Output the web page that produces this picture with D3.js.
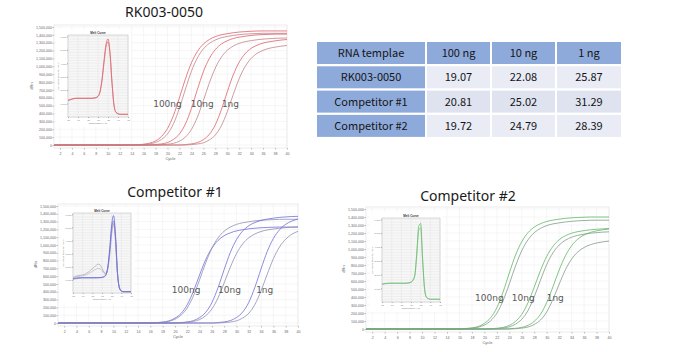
<!DOCTYPE html>
<html>
<head>
<meta charset="utf-8">
<script src="https://cdn.jsdelivr.net/npm/d3@7"></script>
<style>
  body { margin: 0; background: #fff; }
  svg { display: block; }
</style>
</head>
<body>
<div id="chart"></div>
<script>
/* qPCR amplification plots (dRn vs cycle) with melt-curve insets, plus Ct table */

/* ---- data ---- */
const cycles = [1,2,3,4,5,6,7,8,9,10,11,12,13,14,15,16,17,18,19,20,21,22,23,24,25,26,27,28,29,30,31,32,33,34,35,36,37,38,39,40];
const xTicks = [2,4,6,8,10,12,14,16,18,20,22,24,26,28,30,32,34,36,38,40];
const yTicks = [0,100,200,300,400,500,600,700,800,900,1000,1100,1200,1300,1400,1500]; // x1000 dRn

// RK003-0050 (dRn, thousands)
const rk100a = [0,0,0,0,0,0,0,0,0,0,0,0,0,0,3,10,23,52,109,210,377,602,841,1044,1189,1283,1341,1378,1401,1415,1427,1436,1441,1446,1449,1450,1450,1450,1450,1450];
const rk100b = [0,0,0,0,0,0,0,0,0,0,0,0,0,0,0,6,14,31,71,142,270,469,710,937,1108,1221,1292,1335,1363,1380,1393,1403,1410,1414,1417,1420,1420,1420,1420,1420];
const rk10a  = [0,0,0,0,0,0,0,0,0,0,0,0,0,0,0,0,0,6,14,31,71,141,268,465,705,931,1100,1213,1283,1325,1354,1371,1383,1393,1400,1404,1407,1410,1410,1410];
const rk10b  = [0,0,0,0,0,0,0,0,0,0,0,0,0,0,0,0,0,0,3,10,22,49,102,197,354,564,789,979,1115,1204,1258,1292,1314,1327,1338,1346,1352,1356,1359,1360];
const rk1a   = [0,0,0,0,0,0,0,0,0,0,0,0,0,0,0,0,0,0,0,0,0,0,5,14,30,68,135,257,446,675,891,1053,1161,1229,1269,1296,1312,1324,1334,1341];
const rk1b   = [0,0,0,0,0,0,0,0,0,0,0,0,0,0,0,0,0,0,0,0,0,0,0,5,13,28,64,128,243,422,640,845,998,1101,1165,1203,1229,1244,1256,1265];

// Competitor #1
const c1_100a = [0,0,0,0,0,0,0,0,0,0,0,0,0,0,0,0,5,12,27,62,123,234,406,615,812,959,1058,1119,1156,1181,1196,1207,1215,1221,1225,1228,1230,1230,1230,1230];
const c1_100b = [0,0,0,0,0,0,0,0,0,0,0,0,0,0,0,0,3,9,21,48,100,193,346,552,771,958,1091,1177,1230,1264,1285,1298,1309,1317,1322,1326,1329,1330,1330,1330];
const c1_10a  = [0,0,0,0,0,0,0,0,0,0,0,0,0,0,0,0,0,0,0,0,5,14,30,69,137,260,452,685,904,1069,1178,1247,1288,1315,1332,1344,1354,1360,1365,1367];
const c1_10b  = [0,0,0,0,0,0,0,0,0,0,0,0,0,0,0,0,0,0,0,0,2,9,20,44,93,179,321,513,716,889,1013,1093,1142,1173,1193,1205,1215,1223,1228,1231];
const c1_1a   = [0,0,0,0,0,0,0,0,0,0,0,0,0,0,0,0,0,0,0,0,0,0,0,0,0,0,6,14,31,70,139,264,459,695,917,1084,1195,1265,1307,1334];
const c1_1b   = [0,0,0,0,0,0,0,0,0,0,0,0,0,0,0,0,0,0,0,0,0,0,0,0,0,0,0,5,13,28,63,125,238,413,625,825,975,1075,1138,1175];

// Competitor #2
const c2_100a = [0,0,0,0,0,0,0,0,0,0,0,0,0,0,0,0,6,14,31,70,140,266,462,700,924,1092,1204,1274,1316,1344,1361,1373,1383,1390,1394,1397,1400,1400,1400,1400];
const c2_100b = [0,0,0,0,0,0,0,0,0,0,0,0,0,0,0,0,3,10,22,49,102,197,354,564,789,979,1115,1204,1258,1292,1314,1327,1338,1346,1352,1356,1359,1360,1360,1360];
const c2_10a  = [0,0,0,0,0,0,0,0,0,0,0,0,0,0,0,0,0,0,0,0,3,9,20,45,95,183,328,523,731,907,1033,1115,1166,1197,1217,1230,1240,1247,1252,1256];
const c2_10b  = [0,0,0,0,0,0,0,0,0,0,0,0,0,0,0,0,0,0,0,0,0,5,12,27,61,122,232,403,610,805,952,1049,1110,1147,1171,1186,1197,1205,1211,1215];
const c2_1a   = [0,0,0,0,0,0,0,0,0,0,0,0,0,0,0,0,0,0,0,0,0,0,0,3,9,20,46,95,184,330,527,737,914,1041,1124,1175,1207,1227,1240,1250];
const c2_1b   = [0,0,0,0,0,0,0,0,0,0,0,0,0,0,0,0,0,0,0,0,0,0,0,0,4,11,25,56,112,213,370,560,739,874,963,1019,1053,1075,1089,1099];

// melt curves (derivative, arbitrary units)
const meltTemps  = [65,66,67,68,69,70,71,72,73,74,75,76,77,78,79,80,81,82,83,84,85,86,87,88,89,90,91,92,93,94,95];
const meltXTicks = [65,70,75,80,85,90,95];
const meltYTicks = [1,2,3,4,5,6];
const rkMeltA = [1.25,1.30,1.35,1.38,1.40,1.40,1.40,1.40,1.40,1.40,1.40,1.40,1.40,1.42,1.45,1.55,1.9,2.8,4.2,5.4,5.8,4.8,2.6,0.9,0.35,0.25,0.2,0.2,0.2,0.2,0.2];
const rkMeltB = [1.20,1.27,1.32,1.36,1.38,1.38,1.38,1.38,1.38,1.38,1.38,1.38,1.38,1.40,1.43,1.52,1.85,2.7,4.0,5.2,5.6,4.7,2.5,0.85,0.33,0.24,0.2,0.2,0.2,0.2,0.2];
const c1MeltA = [1.10,1.12,1.15,1.17,1.18,1.18,1.18,1.18,1.18,1.18,1.18,1.18,1.18,1.18,1.18,1.2,1.25,1.4,2.0,3.4,5.2,5.9,4.4,1.6,0.4,0.15,0.1,0.1,0.1,0.1,0.1];
const c1MeltB = [1.05,1.08,1.10,1.12,1.13,1.14,1.14,1.14,1.14,1.14,1.14,1.14,1.14,1.15,1.16,1.18,1.22,1.35,1.9,3.2,4.9,5.5,4.2,1.5,0.4,0.15,0.1,0.1,0.1,0.1,0.1];
const c1MeltC = [1.2,1.25,1.3,1.32,1.35,1.38,1.42,1.5,1.6,1.72,1.85,1.98,2.1,2.2,2.15,1.9,1.6,1.5,1.9,3.0,4.6,5.3,4.0,1.5,0.4,0.15,0.1,0.1,0.1,0.1,0.1];
const c1MeltD = [1.15,1.2,1.25,1.28,1.3,1.32,1.35,1.4,1.48,1.56,1.65,1.74,1.82,1.88,1.85,1.7,1.5,1.45,1.85,2.9,4.5,5.2,3.9,1.45,0.4,0.15,0.1,0.1,0.1,0.1,0.1];
const c2MeltA = [1.30,1.33,1.35,1.36,1.37,1.37,1.37,1.37,1.37,1.37,1.37,1.37,1.37,1.38,1.40,1.45,1.6,2.0,3.6,5.5,5.7,3.2,1.0,0.35,0.25,0.2,0.2,0.2,0.2,0.2,0.2];
const c2MeltB = [1.28,1.31,1.33,1.34,1.35,1.35,1.35,1.35,1.35,1.35,1.35,1.35,1.35,1.36,1.38,1.43,1.55,1.9,3.4,5.2,5.4,3.0,0.95,0.33,0.24,0.2,0.2,0.2,0.2,0.2,0.2];

const panelTitles = ["RK003-0050", "Competitor #1", "Competitor #2"];
const doseLabels = ["100ng", "10ng", "1ng"];

// Ct table
const tableHeader = ["RNA templae", "100 ng", "10 ng", "1 ng"];
const tableRows = ["RK003-0050", "Competitor #1", "Competitor #2"];
const ctValues = [[19.07, 22.08, 25.87], [20.81, 25.02, 31.29], [19.72, 24.79, 28.39]];

/* ---- layout ---- */
const width = 697, height = 352;

const panels = [
  { title: panelTitles[0], tx: 164, ty: 17, left: 54, right: 287, y0: 145, yTop: 27,
    colors: ["#df6068", "#c0848a"],
    curves: [rk100a, rk100b, rk10a, rk10b, rk1a, rk1b],
    labelCycles: [17.6, 23.9, 29.1], labelValue: 480,
    inset: { x: 68, y: 35, w: 60, h: 82, melts: [rkMeltB, rkMeltA], colors: ["#d08088", "#e2646c"] } },
  { title: panelTitles[1], tx: 175, ty: 197, left: 58, right: 298, y0: 323, yTop: 206,
    colors: ["#6e6ed8", "#8e8eb2"],
    curves: [c1_100a, c1_100b, c1_10a, c1_10b, c1_1a, c1_1b],
    labelCycles: [19.5, 27.0, 33.2], labelValue: 387,
    inset: { x: 73, y: 213, w: 58, h: 80, melts: [c1MeltC, c1MeltD, c1MeltB, c1MeltA], colors: ["#adadbb", "#bcbcc8", "#8484cc", "#6a6ade"] } },
  { title: panelTitles[2], tx: 468, ty: 201, left: 366, right: 609, y0: 329, yTop: 209,
    colors: ["#5fb864", "#84998a"],
    curves: [c2_100a, c2_100b, c2_10a, c2_10b, c2_1a, c2_1b],
    labelCycles: [18.5, 24.4, 30.0], labelValue: 354,
    inset: { x: 382, y: 218, w: 58, h: 84, melts: [c2MeltB, c2MeltA], colors: ["#9cc09d", "#66bf6a"] } }
];

const svg = d3.select("#chart")
  .append("svg")
  .attr("width", width)
  .attr("height", height);

const tinyFont = "Liberation Sans, Arial, sans-serif";
const commas = d3.format(",");

/* ---- amplification panels ---- */
panels.forEach(p => {
  const g = svg.append("g");

  const x = d3.scaleLinear().domain([1, 40]).range([p.left, p.right]);
  const y = d3.scaleLinear().domain([0, 1500]).range([p.y0, p.yTop]);
  const frameTop = p.yTop - 2, frameBottom = p.y0 + 3;

  // title
  g.append("text")
    .attr("x", p.tx).attr("y", p.ty)
    .attr("text-anchor", "middle")
    .style("font-family", "Noto Sans, sans-serif")
    .style("font-size", "14px")
    .style("fill", "#1a1a1a")
    .text(p.title);

  // plot frame + grid
  g.append("rect")
    .attr("x", p.left).attr("y", frameTop)
    .attr("width", p.right - p.left).attr("height", frameBottom - frameTop)
    .attr("fill", "#fff").attr("stroke", "#dcdcdc").attr("stroke-width", 0.6);

  g.selectAll(".vgrid").data(xTicks).join("line")
    .attr("x1", d => x(d)).attr("x2", d => x(d))
    .attr("y1", frameTop).attr("y2", frameBottom)
    .attr("stroke", "#f0f0f0").attr("stroke-width", 0.6);

  g.selectAll(".hgrid").data(yTicks).join("line")
    .attr("x1", p.left).attr("x2", p.right)
    .attr("y1", d => y(d)).attr("y2", d => y(d))
    .attr("stroke", "#f0f0f0").attr("stroke-width", 0.6);

  // axes (tiny labels like the instrument export)
  const yAxis = g.append("g")
    .attr("transform", `translate(${p.left},0)`)
    .call(d3.axisLeft(y).tickValues(yTicks).tickSize(1.5).tickFormat(d => commas(d * 1000)));
  const xAxis = g.append("g")
    .attr("transform", `translate(0,${frameBottom})`)
    .call(d3.axisBottom(x).tickValues(xTicks).tickSize(1.5));
  [yAxis, xAxis].forEach(a => {
    a.select(".domain").remove();
    a.selectAll("line").attr("stroke", "#bbb");
    a.selectAll("text")
      .style("font-family", tinyFont)
      .style("font-size", "3.6px")
      .style("fill", "#666");
  });
  yAxis.selectAll("text").attr("x", -2);
  xAxis.selectAll("text").attr("y", 4);

  g.append("text")
    .attr("x", (p.left + p.right) / 2).attr("y", frameBottom + 12)
    .attr("text-anchor", "middle")
    .style("font-family", tinyFont).style("font-size", "4px").style("fill", "#666")
    .text("Cycle");
  g.append("text")
    .attr("transform", `translate(${p.left - 21},${(p.y0 + p.yTop) / 2}) rotate(-90)`)
    .attr("text-anchor", "middle")
    .style("font-family", tinyFont).style("font-size", "4px").style("fill", "#666")
    .text("dRn");

  // amplification curves
  const line = d3.line()
    .x((d, i) => x(cycles[i]))
    .y(d => y(d))
    .curve(d3.curveMonotoneX);

  g.selectAll(".amp").data(p.curves).join("path")
    .attr("d", line)
    .attr("fill", "none")
    .attr("stroke", (d, i) => p.colors[i % 2])
    .attr("stroke-width", 0.8);

  // melt-curve inset
  const ins = p.inset;
  const mx = d3.scaleLinear().domain([65, 95]).range([ins.x, ins.x + ins.w]);
  const my = d3.scaleLinear().domain([0, 6.1]).range([ins.y + ins.h, ins.y]);

  g.append("rect")
    .attr("x", ins.x - 12).attr("y", ins.y - 6)
    .attr("width", ins.w + 15).attr("height", ins.h + 16)
    .attr("fill", "#fff");
  g.append("rect")
    .attr("x", ins.x).attr("y", ins.y)
    .attr("width", ins.w).attr("height", ins.h)
    .attr("fill", "#f7f7f7").attr("stroke", "#b5b5b5").attr("stroke-width", 0.5);

  g.selectAll(".mh").data(my.ticks(24)).join("line")
    .attr("x1", ins.x).attr("x2", ins.x + ins.w)
    .attr("y1", d => my(d)).attr("y2", d => my(d))
    .attr("stroke", "#e0e0e0").attr("stroke-width", 0.4);
  g.selectAll(".mv").data(meltXTicks).join("line")
    .attr("x1", d => mx(d)).attr("x2", d => mx(d))
    .attr("y1", ins.y).attr("y2", ins.y + ins.h)
    .attr("stroke", "#e0e0e0").attr("stroke-width", 0.4);

  const myAxis = g.append("g")
    .attr("transform", `translate(${ins.x},0)`)
    .call(d3.axisLeft(my).tickValues(meltYTicks).tickSize(1).tickFormat(d => commas(d * 1000)));
  const mxAxis = g.append("g")
    .attr("transform", `translate(0,${ins.y + ins.h})`)
    .call(d3.axisBottom(mx).tickValues(meltXTicks).tickSize(1));
  [myAxis, mxAxis].forEach(a => {
    a.select(".domain").remove();
    a.selectAll("line").attr("stroke", "#aaa");
    a.selectAll("text")
      .style("font-family", tinyFont)
      .style("font-size", "2.4px")
      .style("fill", "#777");
  });
  myAxis.selectAll("text").attr("x", -1.5);
  mxAxis.selectAll("text").attr("y", 2.5);

  g.append("text")
    .attr("x", ins.x + ins.w / 2).attr("y", ins.y - 1.5)
    .attr("text-anchor", "middle")
    .style("font-family", tinyFont).style("font-size", "3px")
    .style("font-weight", "bold").style("fill", "#333")
    .text("Melt Curve");
  g.append("text")
    .attr("x", ins.x + ins.w / 2).attr("y", ins.y + ins.h + 7)
    .attr("text-anchor", "middle")
    .style("font-family", tinyFont).style("font-size", "2.4px").style("fill", "#777")
    .text("Temperature (°C)");
  g.append("text")
    .attr("transform", `translate(${ins.x - 9},${ins.y + ins.h / 2}) rotate(-90)`)
    .attr("text-anchor", "middle")
    .style("font-family", tinyFont).style("font-size", "2.4px").style("fill", "#777")
    .text("Derivative Reporter (-Rn')");

  const mline = d3.line()
    .x((d, i) => mx(meltTemps[i]))
    .y(d => my(d))
    .curve(d3.curveMonotoneX);

  g.selectAll(".melt").data(ins.melts).join("path")
    .attr("d", mline)
    .attr("fill", "none")
    .attr("stroke", (d, i) => ins.colors[i])
    .attr("stroke-width", 0.8);

  // dose labels
  g.selectAll(".dose").data(doseLabels).join("text")
    .attr("x", (d, i) => x(p.labelCycles[i]))
    .attr("y", y(p.labelValue))
    .style("font-family", "DejaVu Sans, sans-serif")
    .style("font-size", "9px")
    .style("fill", "#5a5a5a")
    .text(d => d);
});

/* ---- Ct table ---- */
const colWidths = [108, 63, 63, 64];
const tableLeft = 317, tableTop = 42, rowH = 22, rowStep = 24.3, gap = 2;
const colX = colWidths.map((w, i) => tableLeft + d3.sum(colWidths.slice(0, i)) + gap * i);

const cells = [];
tableHeader.forEach((t, j) => cells.push({ r: 0, c: j, text: t }));
tableRows.forEach((name, i) => {
  cells.push({ r: i + 1, c: 0, text: name });
  ctValues[i].forEach((v, j) => cells.push({ r: i + 1, c: j + 1, text: v.toFixed(2) }));
});

const bodyFills = ["#e9ebf5", "#dfe3f0", "#e9ebf5"];
const cell = svg.append("g").selectAll("g").data(cells).join("g")
  .attr("transform", d => `translate(${colX[d.c]},${tableTop + d.r * rowStep})`);

cell.append("rect")
  .attr("width", d => colWidths[d.c])
  .attr("height", rowH)
  .attr("fill", d => (d.r === 0 || d.c === 0) ? "#8eaadb" : bodyFills[d.r - 1]);

cell.append("text")
  .attr("x", d => colWidths[d.c] / 2)
  .attr("y", rowH / 2 + 4)
  .attr("text-anchor", "middle")
  .style("font-family", "Noto Sans CJK TC, Noto Sans, sans-serif")
  .style("font-size", "11px")
  .style("fill", "#151515")
  .text(d => d.text);
</script>
</body>
</html>
